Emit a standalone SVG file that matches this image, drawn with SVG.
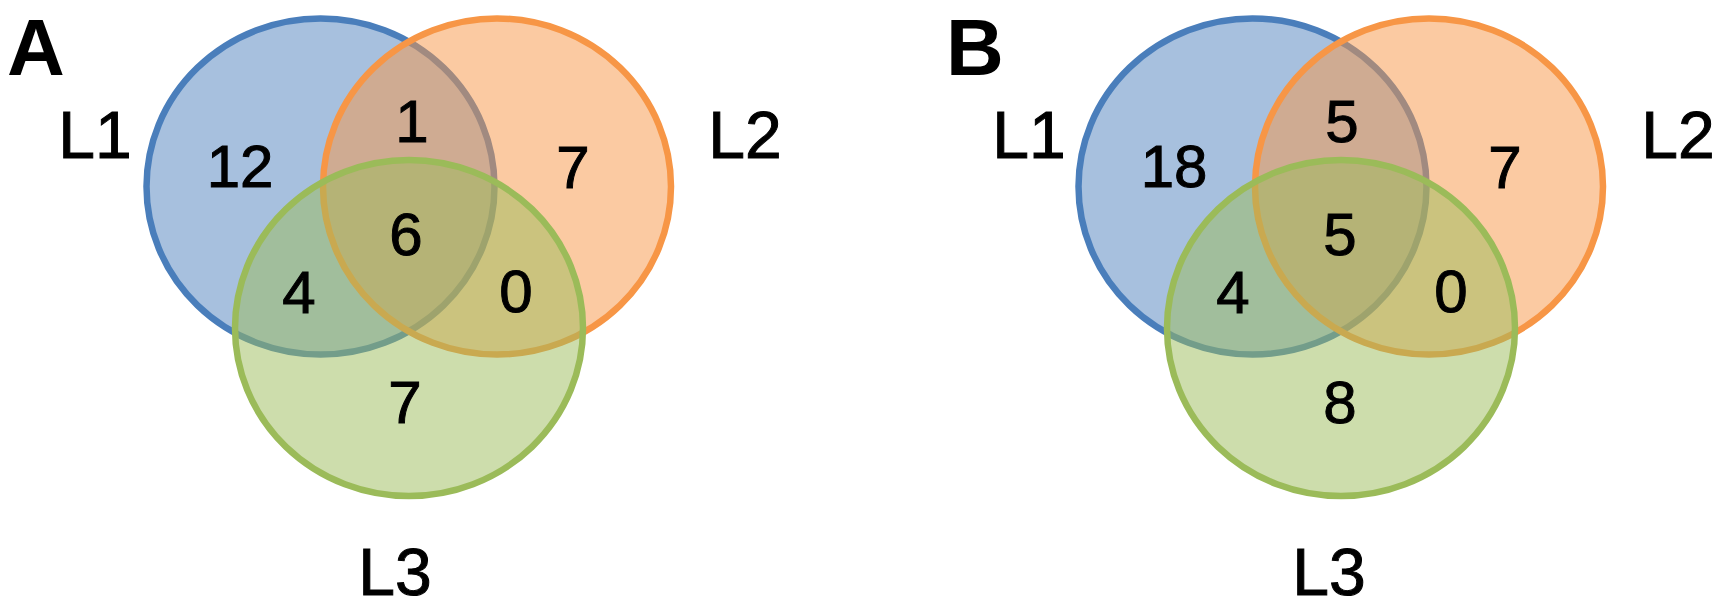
<svg xmlns="http://www.w3.org/2000/svg" width="1722" height="610" viewBox="0 0 1722 610">
<style>
.set{stroke-width:6.5}
.blue{fill:rgba(79,129,189,0.5);stroke:#4a7ebb}
.orange{fill:rgba(247,150,70,0.5);stroke:#f79646}
.green{fill:rgba(155,187,89,0.5);stroke:#9bbb59}
text{font-family:"Liberation Sans",Arial,sans-serif;fill:#000;text-anchor:middle}
.num,.lab{stroke:#000;stroke-width:1}
.num{font-size:60px}
.lab{font-size:66px}
.panel{font-size:80px;font-weight:bold;text-anchor:start}
</style>
<rect width="1722" height="610" fill="#fff"/>
<g id="panelA">
  <g id="A-L1"><ellipse class="set blue" cx="320.5" cy="186.5" rx="174" ry="168"/></g>
  <g id="A-L2"><ellipse class="set orange" cx="497" cy="186.5" rx="174" ry="168"/></g>
  <g id="A-L3"><ellipse class="set green" cx="409" cy="328" rx="174" ry="168"/></g>
  <g id="A-labels">
    <text class="panel" x="7" y="75">A</text>
    <text class="lab" x="95" y="158">L1</text>
    <text class="lab" x="745" y="158">L2</text>
    <text class="lab" x="395" y="595">L3</text>
    <text class="num" x="240" y="187">12</text>
    <text class="num" x="412" y="142">1</text>
    <text class="num" x="573" y="188">7</text>
    <text class="num" x="406" y="255">6</text>
    <text class="num" x="299" y="313">4</text>
    <text class="num" x="516" y="312">0</text>
    <text class="num" x="405" y="423">7</text>
  </g>
</g>
<g id="panelB" transform="translate(932,0)">
  <g id="B-L1"><ellipse class="set blue" cx="320.5" cy="186.5" rx="174" ry="168"/></g>
  <g id="B-L2"><ellipse class="set orange" cx="497" cy="186.5" rx="174" ry="168"/></g>
  <g id="B-L3"><ellipse class="set green" cx="409" cy="328" rx="174" ry="168"/></g>
  <g id="B-labels">
    <text class="panel" x="14" y="75">B</text>
    <text class="lab" x="97" y="158">L1</text>
    <text class="lab" x="746" y="158">L2</text>
    <text class="lab" x="397" y="595">L3</text>
    <text class="num" x="242" y="187">18</text>
    <text class="num" x="410" y="142">5</text>
    <text class="num" x="573" y="188">7</text>
    <text class="num" x="408" y="255">5</text>
    <text class="num" x="301" y="313">4</text>
    <text class="num" x="519" y="312">0</text>
    <text class="num" x="408" y="423">8</text>
  </g>
</g>
</svg>
